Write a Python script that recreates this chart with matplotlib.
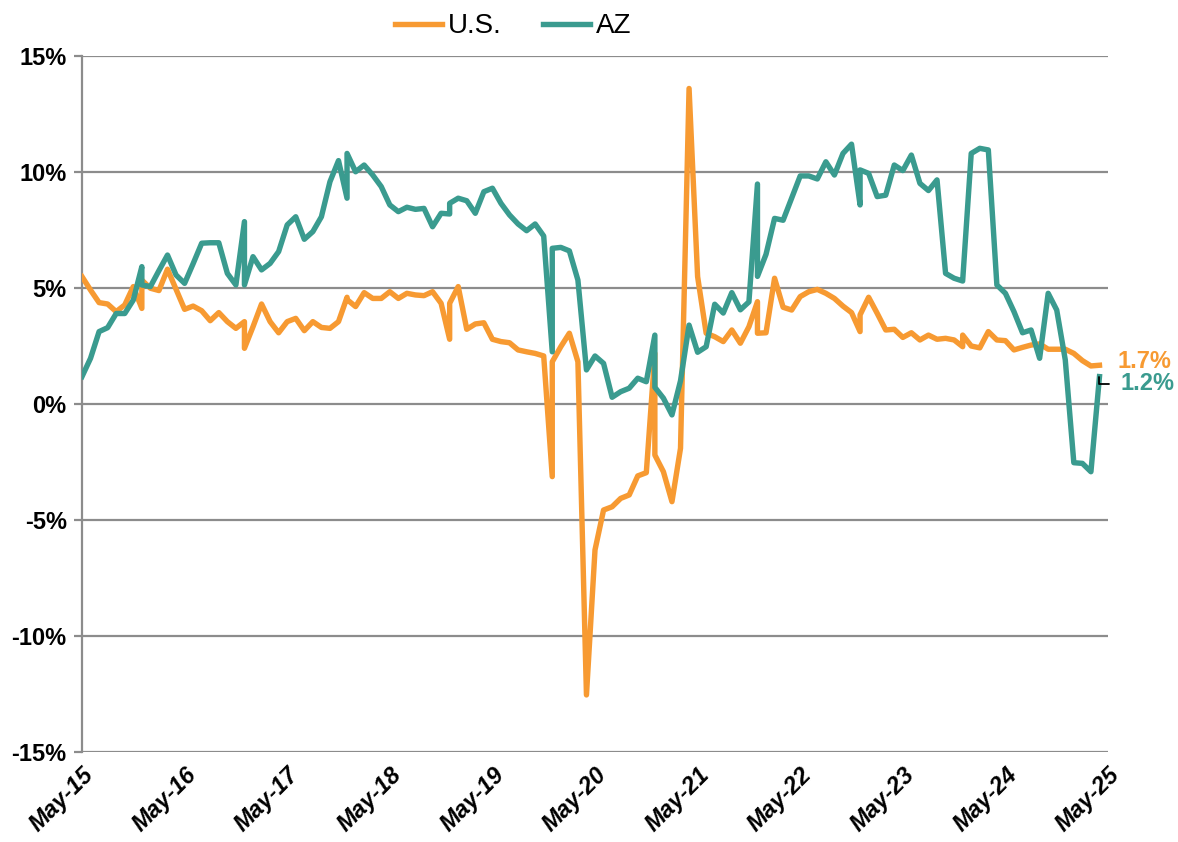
import matplotlib
matplotlib.use('Agg')
import matplotlib.pyplot as plt

# month offsets from May-2015; December points appear twice (pre/post benchmark)
bench_months = [7, 19, 31, 43, 55, 67, 79, 91, 103]
months = sorted(list(range(120)) + bench_months)

us_values = [
    5.49, 4.91, 4.37, 4.31, 3.98, 4.27, 5.06,
    4.12, 5.34,
    4.99, 4.89, 5.81, 4.94, 4.08, 4.22, 4.02, 3.59, 3.94, 3.55, 3.26,
    3.55, 2.40,
    3.33, 4.31, 3.55, 3.07, 3.55, 3.69, 3.16, 3.55, 3.30, 3.26, 3.55,
    4.60, 4.50,
    4.20, 4.80, 4.55, 4.55, 4.84, 4.55, 4.77, 4.70, 4.67, 4.84, 4.34,
    2.79, 4.34,
    5.06, 3.22, 3.45, 3.50, 2.79, 2.69, 2.64, 2.33, 2.25, 2.18, 2.07,
    -3.13, 1.82,
    2.47, 3.05, 1.82, -12.54, -6.29, -4.57, -4.43, -4.07, -3.92, -3.10, -2.96,
    2.18, -2.20,
    -2.92, -4.21, -1.91, 13.60, 5.49, 3.05, 2.90, 2.69, 3.19, 2.62, 3.33,
    4.41, 3.05,
    3.07, 5.42, 4.17, 4.05, 4.63, 4.84, 4.94, 4.77, 4.55, 4.22, 3.94,
    3.12, 3.84,
    4.60, 3.91, 3.19, 3.22, 2.87, 3.07, 2.76, 2.97, 2.79, 2.83, 2.76,
    2.47, 2.97,
    2.50, 2.42, 3.12, 2.76, 2.73, 2.33, 2.44, 2.54, 2.59, 2.36, 2.36, 2.36,
    2.18, 1.87, 1.64, 1.67,
]

az_values = [
    1.18, 1.97, 3.12, 3.29, 3.90, 3.90, 4.48,
    5.92, 5.13,
    5.06, 5.75, 6.42, 5.56, 5.20, 6.05, 6.93, 6.95, 6.95, 5.63, 5.13,
    7.86, 5.13,
    6.35, 5.78, 6.06, 6.57, 7.72, 8.07, 7.10, 7.43, 8.07, 9.58, 10.49,
    8.87, 10.80,
    10.01, 10.30, 9.87, 9.37, 8.58, 8.29, 8.48, 8.39, 8.43, 7.64, 8.22,
    8.19, 8.65,
    8.87, 8.76, 8.22, 9.15, 9.30, 8.65, 8.15, 7.76, 7.47, 7.76, 7.24,
    2.25, 6.71,
    6.75, 6.60, 5.34, 1.47, 2.07, 1.75, 0.29, 0.53, 0.68, 1.11, 0.96,
    2.97, 0.72,
    0.25, -0.47, 1.00, 3.40, 2.23, 2.47, 4.30, 3.92, 4.80, 4.06, 4.40,
    9.48, 5.50,
    6.45, 8.00, 7.92, 8.87, 9.83, 9.83, 9.70, 10.44, 9.87, 10.80, 11.20,
    8.58, 10.09,
    9.94, 8.94, 9.00, 10.30, 10.06, 10.73, 9.51, 9.20, 9.66, 5.63, 5.42,
    5.30, 5.32,
    10.80, 11.02, 10.95, 5.13, 4.77, 3.98, 3.07, 3.19, 1.97, 4.77, 4.05, 1.90,
    -2.53, -2.56, -2.92, 1.18,
]

tick_months = [0, 12, 24, 36, 48, 60, 72, 84, 96, 108, 120]
tick_labels = ['May-15', 'May-16', 'May-17', 'May-18', 'May-19', 'May-20',
               'May-21', 'May-22', 'May-23', 'May-24', 'May-25']
y_ticks = [-15, -10, -5, 0, 5, 10, 15]

us_color = '#F79A32'
az_color = '#3A9B8F'
grid_color = '#8C8C8C'

plt.rcParams['font.family'] = ['Liberation Sans', 'DejaVu Sans']

fig = plt.figure(figsize=(11.78, 8.42), dpi=100)
ax = fig.add_axes([0.0696, 0.1069, 0.8710, 0.8266])

ax.plot(months, us_values, color=us_color, linewidth=3.9, label='U.S.',
        solid_joinstyle='round', zorder=3)
ax.plot(months, az_values, color=az_color, linewidth=3.9, label='AZ',
        solid_joinstyle='round', zorder=3)

ax.set_xlim(0, 120)
ax.set_ylim(-15, 15)

ax.set_yticks(y_ticks)
ax.set_yticklabels([f'{v}%' for v in y_ticks], fontsize=17, fontweight='bold')
ax.set_xticks(tick_months)
ax.set_xticklabels(tick_labels, fontsize=17, fontweight='bold', style='italic',
                   rotation=45, ha='right', va='top', rotation_mode='anchor')

ax.yaxis.grid(True, color=grid_color, linewidth=1.6)
ax.set_axisbelow(True)
for side in ['top', 'right', 'bottom']:
    ax.spines[side].set_visible(False)
ax.spines['left'].set_color(grid_color)
ax.spines['left'].set_linewidth(1.6)
ax.tick_params(axis='y', length=6, width=1.6, color=grid_color, pad=5)
ax.tick_params(axis='x', length=0, pad=8)

# end-of-series labels
ax.annotate(f'{us_values[-1]:.1f}%', xy=(months[-1], us_values[-1]),
            xytext=(13, 3), textcoords='offset points', va='center', ha='left',
            fontsize=17, fontweight='bold', color=us_color, annotation_clip=False)
ax.annotate(f'{az_values[-1]:.1f}%', xy=(months[-1], az_values[-1]),
            xytext=(15, -5), textcoords='offset points', va='center', ha='left',
            fontsize=17, fontweight='bold', color=az_color, annotation_clip=False,
            arrowprops=dict(arrowstyle='-', color='black', linewidth=1.3,
                            connectionstyle='angle,angleA=0,angleB=90,rad=0',
                            relpos=(0, 0.5), shrinkA=6, shrinkB=0))

ax.legend(loc='lower center', bbox_to_anchor=(0.42, 1.0), ncol=2, frameon=False,
          fontsize=20, handlelength=1.7, handletextpad=0.2, columnspacing=1.5,
          borderaxespad=0.2)

fig.savefig('out.png', dpi=100)
